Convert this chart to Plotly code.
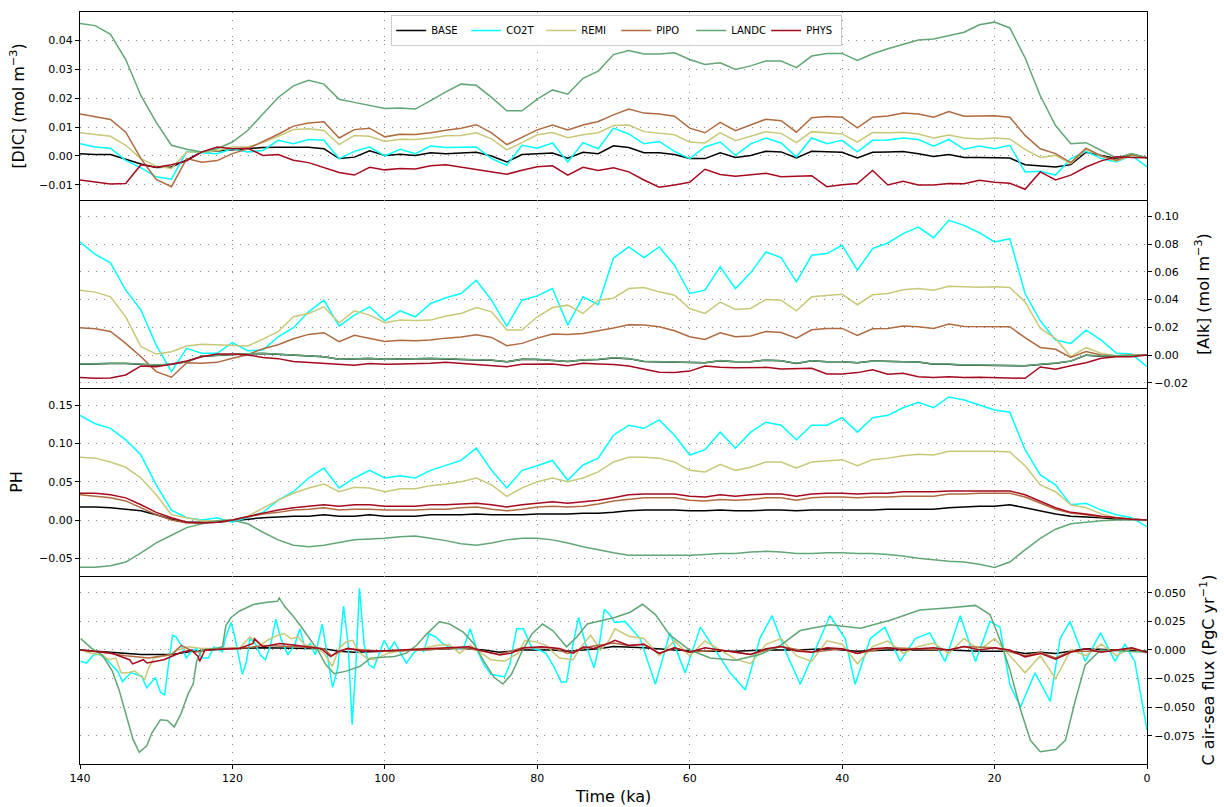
import plotly.graph_objects as go

# ---------------- data ----------------
T2 = list(range(140, -1, -2))  # ka, 2-ka steps for panels 1-3

DIC_BASE = [0.0008, 0.0005, 0.0005, -0.0011, -0.0028, -0.004, -0.0038, -0.0014, 0.0014, 0.0017, 0.0021, 0.0025, 0.0029, 0.003, 0.0029, 0.003, 0.0025, -0.0009, -0.0004, 0.0018, 0.0002, 0.0006, 0.0002, 0.0011, 0.0008, 0.0011, 0.0013, 0.0, -0.0021, 0.0005, 0.0008, 0.001, -0.0008, 0.0013, 0.0008, 0.0035, 0.0029, 0.0011, 0.0011, 0.0005, -0.0009, -0.0009, 0.0011, -0.0005, 0.0002, 0.0016, 0.0014, -0.0007, 0.0016, 0.0014, 0.0013, -0.0007, 0.0013, 0.0014, 0.0015, 0.0008, -0.0002, 0.0005, -0.0005, -0.0005, -0.0007, -0.0007, -0.003, -0.0034, -0.0038, -0.003, 0.0013, 0.0002, -0.0009, 0.0005, -0.0006]
DIC_CO2T = [0.0042, 0.0031, 0.0027, -0.0015, -0.0041, -0.0072, -0.008, 0.0016, 0.0011, 0.0008, 0.0025, 0.0014, 0.0019, 0.0054, 0.0042, 0.0057, 0.0054, -0.0009, 0.0016, 0.0031, 0.0, 0.0023, 0.0008, 0.0034, 0.0029, 0.0031, 0.0031, -0.0009, -0.0032, 0.0037, 0.0027, 0.0045, -0.0021, 0.0046, 0.0025, 0.0096, 0.0076, 0.0042, 0.005, 0.0016, -0.0009, 0.0031, 0.0048, 0.0002, 0.0042, 0.0062, 0.0045, -0.0003, 0.0062, 0.0042, 0.0054, 0.0014, 0.0054, 0.0055, 0.0062, 0.0057, 0.0034, 0.0057, 0.0023, 0.0034, 0.0025, 0.0037, -0.0055, -0.0053, -0.0066, -0.0009, 0.0016, -0.0009, -0.0021, 0.0002, -0.0038]
DIC_REMI = [0.008, 0.0073, 0.0068, 0.0037, -0.0009, -0.0035, -0.0043, 0.0014, 0.0014, 0.0018, 0.0031, 0.0031, 0.0046, 0.0068, 0.0091, 0.0094, 0.0088, 0.0039, 0.0071, 0.0068, 0.005, 0.0058, 0.0057, 0.0062, 0.007, 0.0071, 0.008, 0.0059, 0.0021, 0.0046, 0.0073, 0.0081, 0.0063, 0.0073, 0.008, 0.0105, 0.0107, 0.0084, 0.0079, 0.0073, 0.0048, 0.0045, 0.0081, 0.0053, 0.0068, 0.0084, 0.0078, 0.0046, 0.0084, 0.008, 0.0076, 0.0048, 0.0081, 0.008, 0.0082, 0.0076, 0.0062, 0.0072, 0.0062, 0.0059, 0.0062, 0.0059, 0.0023, -0.0005, 0.0002, -0.0026, 0.0023, 0.0, -0.0018, 0.0002, -0.0006]
DIC_PIPO = [0.0145, 0.0136, 0.0126, 0.0082, -0.0009, -0.0081, -0.0106, -0.0009, -0.0022, -0.0016, 0.0008, 0.0025, 0.005, 0.0075, 0.0103, 0.0114, 0.0118, 0.0062, 0.0091, 0.0096, 0.0066, 0.0075, 0.0074, 0.008, 0.0089, 0.0096, 0.0108, 0.008, 0.0039, 0.0065, 0.009, 0.0107, 0.009, 0.0107, 0.0119, 0.0142, 0.0162, 0.0148, 0.0145, 0.0137, 0.0096, 0.008, 0.0116, 0.0087, 0.0107, 0.0127, 0.0122, 0.0082, 0.0132, 0.0136, 0.0134, 0.0097, 0.0134, 0.0138, 0.0148, 0.0145, 0.0134, 0.0153, 0.0137, 0.0139, 0.0139, 0.0134, 0.0071, 0.0025, 0.0008, -0.0023, 0.0027, 0.0, -0.0015, 0.0005, -0.0006]
DIC_LANDC = [0.0457, 0.045, 0.042, 0.0333, 0.0208, 0.0116, 0.0037, 0.0023, 0.0014, 0.0025, 0.0048, 0.0088, 0.0145, 0.0202, 0.0242, 0.0261, 0.0248, 0.0196, 0.0185, 0.0174, 0.0164, 0.0166, 0.0162, 0.0191, 0.0221, 0.0248, 0.0244, 0.0202, 0.0156, 0.0156, 0.0196, 0.0228, 0.0213, 0.0268, 0.0293, 0.035, 0.0364, 0.0352, 0.0352, 0.0356, 0.0333, 0.0316, 0.0322, 0.0299, 0.0311, 0.0328, 0.0328, 0.0305, 0.0345, 0.0354, 0.0354, 0.033, 0.0353, 0.037, 0.0386, 0.04, 0.0404, 0.0416, 0.0427, 0.0453, 0.0462, 0.0442, 0.0339, 0.0208, 0.0105, 0.0042, 0.0046, 0.0019, -0.0007, 0.0008, -0.0006]
DIC_PHYS = [-0.0083, -0.0089, -0.0097, -0.0095, -0.003, -0.0039, -0.003, -0.0017, 0.0014, 0.0031, 0.0025, 0.0027, 0.0002, 0.0005, -0.0015, -0.0023, -0.004, -0.0057, -0.0066, -0.0039, -0.0048, -0.0043, -0.0045, -0.0034, -0.003, -0.0038, -0.0046, -0.0053, -0.0063, -0.0049, -0.0037, -0.0034, -0.0066, -0.0039, -0.005, -0.0041, -0.0055, -0.0083, -0.0108, -0.01, -0.0091, -0.0046, -0.0064, -0.007, -0.0064, -0.006, -0.0072, -0.007, -0.0068, -0.0106, -0.0099, -0.0095, -0.005, -0.01, -0.0087, -0.01, -0.01, -0.0095, -0.0096, -0.0084, -0.0091, -0.0094, -0.0115, -0.0055, -0.0083, -0.0066, -0.0038, -0.0017, -0.0003, -0.0005, -0.0006]

ALK_CO2T = [0.0816, 0.0727, 0.0665, 0.0468, 0.0324, 0.0072, -0.012, 0.0048, 0.0012, 0.0012, 0.0089, 0.0031, 0.0036, 0.0132, 0.0197, 0.0312, 0.0396, 0.0209, 0.0288, 0.0348, 0.0247, 0.0319, 0.0276, 0.0372, 0.0413, 0.0444, 0.054, 0.0396, 0.0209, 0.0396, 0.0427, 0.048, 0.0216, 0.042, 0.0363, 0.07, 0.078, 0.0703, 0.078, 0.0648, 0.0444, 0.0468, 0.0636, 0.048, 0.0593, 0.0744, 0.0703, 0.0528, 0.072, 0.0732, 0.0792, 0.0612, 0.0768, 0.0809, 0.0876, 0.0924, 0.0847, 0.0972, 0.0936, 0.0883, 0.0816, 0.084, 0.0444, 0.0247, 0.0108, 0.0084, 0.018, 0.0108, 0.0012, 0.0007, -0.0084]
ALK_REMI = [0.0468, 0.0454, 0.042, 0.0276, 0.006, 0.0007, 0.0024, 0.0065, 0.0077, 0.0074, 0.0072, 0.0065, 0.0115, 0.0168, 0.0276, 0.03, 0.0348, 0.0233, 0.0319, 0.0288, 0.0233, 0.0252, 0.025, 0.0252, 0.0281, 0.03, 0.0343, 0.0312, 0.018, 0.018, 0.0276, 0.0343, 0.036, 0.03, 0.0396, 0.041, 0.048, 0.0487, 0.0456, 0.0432, 0.0336, 0.03, 0.0382, 0.0329, 0.0336, 0.0401, 0.0396, 0.0319, 0.042, 0.0432, 0.0439, 0.0363, 0.0435, 0.0444, 0.0471, 0.048, 0.0468, 0.0497, 0.0492, 0.049, 0.0492, 0.0487, 0.0384, 0.0192, 0.012, -0.0012, 0.0053, 0.0012, -0.0007, 0.0002, 0.0]
ALK_PIPO = [0.0197, 0.019, 0.017, 0.0084, -0.0012, -0.012, -0.016, -0.0055, -0.006, -0.0053, -0.0024, 0.0002, 0.0046, 0.0074, 0.0118, 0.0149, 0.0161, 0.0096, 0.0142, 0.0122, 0.0098, 0.0106, 0.0103, 0.0108, 0.0122, 0.013, 0.0146, 0.0127, 0.0067, 0.0084, 0.0122, 0.0151, 0.0149, 0.0156, 0.0173, 0.0195, 0.0218, 0.0216, 0.0204, 0.0175, 0.0132, 0.0113, 0.0161, 0.0132, 0.0137, 0.017, 0.0163, 0.0122, 0.0182, 0.0192, 0.0192, 0.0142, 0.019, 0.0192, 0.0209, 0.0204, 0.0192, 0.0223, 0.0206, 0.0204, 0.0206, 0.0204, 0.0125, 0.0055, 0.0041, -0.0017, 0.0026, 0.0, -0.0005, 0.0, 0.0]
ALK_LANDC = [-0.0065, -0.006, -0.006, -0.006, -0.0065, -0.0072, -0.0065, -0.0048, -0.0007, 0.0, 0.0007, 0.001, 0.0012, 0.0007, 0.0, -0.0005, -0.0012, -0.003, -0.0028, -0.0024, -0.003, -0.0026, -0.0026, -0.0024, -0.003, -0.0031, -0.0034, -0.0036, -0.0048, -0.003, -0.0031, -0.0036, -0.0046, -0.0034, -0.0031, -0.002, -0.0025, -0.0045, -0.0048, -0.005, -0.0053, -0.0055, -0.004, -0.0048, -0.0048, -0.0036, -0.0041, -0.006, -0.0041, -0.0048, -0.0048, -0.0055, -0.0043, -0.0048, -0.0048, -0.005, -0.0065, -0.0065, -0.0072, -0.0072, -0.0072, -0.0072, -0.0077, -0.0067, -0.0058, -0.0043, 0.0, -0.0007, -0.0005, 0.0, 0.0]
ALK_BASE = [-0.0066, -0.0061, -0.0061, -0.0061, -0.0066, -0.0073, -0.0066, -0.0049, -0.0008, -0.0001, 0.0006, 0.0009, 0.0011, 0.0006, -0.0001, -0.0006, -0.0013, -0.0031, -0.0029, -0.0025, -0.0031, -0.0027, -0.0027, -0.0025, -0.0031, -0.0032, -0.0035, -0.0037, -0.0049, -0.0031, -0.0032, -0.0037, -0.0047, -0.0035, -0.0032, -0.0021, -0.0026, -0.0046, -0.0049, -0.0051, -0.0054, -0.0056, -0.0041, -0.0049, -0.0049, -0.0037, -0.0042, -0.0061, -0.0042, -0.0049, -0.0049, -0.0056, -0.0044, -0.0049, -0.0049, -0.0051, -0.0066, -0.0066, -0.0073, -0.0073, -0.0073, -0.0073, -0.0078, -0.0068, -0.0059, -0.0044, -0.0001, -0.0008, -0.0006, -0.0001, 0.0]
ALK_PHYS = [-0.0163, -0.0168, -0.0166, -0.0144, -0.0079, -0.0084, -0.0067, -0.0043, -0.0012, 0.0007, 0.0007, 0.0, -0.0017, -0.0026, -0.0046, -0.0053, -0.006, -0.0067, -0.0074, -0.0061, -0.0067, -0.0065, -0.0065, -0.006, -0.0053, -0.006, -0.0072, -0.0074, -0.0084, -0.0067, -0.0065, -0.0065, -0.0077, -0.006, -0.0065, -0.0068, -0.0079, -0.0103, -0.0125, -0.0127, -0.0116, -0.0079, -0.0089, -0.0091, -0.0089, -0.0089, -0.0101, -0.0096, -0.0096, -0.0137, -0.0137, -0.0127, -0.0106, -0.0139, -0.0132, -0.0156, -0.0163, -0.0156, -0.0163, -0.016, -0.0163, -0.0166, -0.0168, -0.0086, -0.0103, -0.0077, -0.0055, -0.0024, -0.0012, -0.0012, 0.0]

PH_BASE = [0.017, 0.017, 0.016, 0.014, 0.012, 0.007, 0.001, -0.003, -0.003, -0.003, -0.001, 0.001, 0.003, 0.004, 0.005, 0.005, 0.007, 0.005, 0.005, 0.007, 0.005, 0.005, 0.005, 0.007, 0.007, 0.007, 0.008, 0.007, 0.007, 0.007, 0.008, 0.008, 0.008, 0.009, 0.009, 0.01, 0.012, 0.013, 0.013, 0.013, 0.012, 0.012, 0.013, 0.012, 0.012, 0.013, 0.013, 0.012, 0.013, 0.013, 0.013, 0.013, 0.013, 0.014, 0.014, 0.014, 0.014, 0.016, 0.017, 0.018, 0.018, 0.02, 0.016, 0.012, 0.008, 0.005, 0.004, 0.003, 0.001, 0.001, 0.0]
PH_CO2T = [0.137, 0.126, 0.12, 0.105, 0.085, 0.046, 0.013, 0.003, 0.0, 0.003, -0.003, 0.004, 0.01, 0.026, 0.037, 0.055, 0.068, 0.042, 0.055, 0.065, 0.055, 0.058, 0.055, 0.065, 0.072, 0.078, 0.094, 0.065, 0.042, 0.065, 0.071, 0.078, 0.052, 0.072, 0.081, 0.111, 0.124, 0.12, 0.131, 0.111, 0.085, 0.092, 0.115, 0.094, 0.115, 0.128, 0.124, 0.105, 0.124, 0.124, 0.134, 0.115, 0.134, 0.137, 0.147, 0.154, 0.147, 0.161, 0.157, 0.15, 0.144, 0.141, 0.092, 0.059, 0.046, 0.02, 0.022, 0.013, 0.007, 0.003, -0.009]
PH_REMI = [0.082, 0.081, 0.076, 0.069, 0.055, 0.033, 0.007, 0.003, -0.001, -0.001, 0.0, 0.005, 0.016, 0.026, 0.035, 0.042, 0.047, 0.037, 0.043, 0.042, 0.037, 0.041, 0.041, 0.045, 0.047, 0.05, 0.055, 0.046, 0.031, 0.042, 0.05, 0.055, 0.05, 0.055, 0.063, 0.076, 0.082, 0.082, 0.081, 0.076, 0.065, 0.063, 0.073, 0.065, 0.069, 0.076, 0.076, 0.068, 0.076, 0.077, 0.079, 0.071, 0.079, 0.081, 0.084, 0.086, 0.085, 0.09, 0.09, 0.09, 0.09, 0.089, 0.071, 0.046, 0.037, 0.02, 0.016, 0.008, 0.003, 0.001, 0.0]
PH_PIPO = [0.033, 0.031, 0.029, 0.025, 0.016, 0.007, 0.0, -0.004, -0.004, -0.003, 0.0, 0.004, 0.008, 0.01, 0.013, 0.014, 0.016, 0.013, 0.014, 0.014, 0.013, 0.013, 0.013, 0.014, 0.014, 0.016, 0.017, 0.014, 0.012, 0.014, 0.017, 0.018, 0.017, 0.018, 0.021, 0.025, 0.027, 0.029, 0.029, 0.029, 0.026, 0.025, 0.027, 0.026, 0.027, 0.029, 0.029, 0.026, 0.029, 0.03, 0.03, 0.029, 0.03, 0.03, 0.031, 0.031, 0.031, 0.034, 0.034, 0.035, 0.035, 0.035, 0.03, 0.022, 0.014, 0.009, 0.007, 0.004, 0.003, 0.001, 0.0]
PH_LANDC = [-0.062, -0.062, -0.06, -0.055, -0.043, -0.03, -0.02, -0.01, -0.005, -0.001, 0.0, -0.005, -0.016, -0.026, -0.033, -0.035, -0.033, -0.029, -0.026, -0.025, -0.024, -0.022, -0.021, -0.024, -0.027, -0.031, -0.033, -0.03, -0.026, -0.024, -0.024, -0.026, -0.03, -0.035, -0.039, -0.043, -0.046, -0.046, -0.046, -0.046, -0.046, -0.045, -0.044, -0.044, -0.042, -0.041, -0.042, -0.044, -0.044, -0.043, -0.043, -0.044, -0.044, -0.045, -0.047, -0.05, -0.052, -0.054, -0.055, -0.058, -0.062, -0.055, -0.039, -0.024, -0.012, -0.005, -0.003, -0.001, 0.0, 0.0, 0.0]
PH_PHYS = [0.035, 0.035, 0.033, 0.029, 0.02, 0.01, 0.003, -0.003, -0.004, -0.003, 0.0, 0.005, 0.009, 0.013, 0.016, 0.018, 0.02, 0.018, 0.02, 0.02, 0.018, 0.018, 0.018, 0.02, 0.02, 0.021, 0.022, 0.02, 0.017, 0.02, 0.022, 0.024, 0.022, 0.024, 0.026, 0.029, 0.033, 0.034, 0.034, 0.034, 0.031, 0.03, 0.033, 0.031, 0.033, 0.034, 0.034, 0.031, 0.034, 0.035, 0.035, 0.034, 0.035, 0.035, 0.037, 0.037, 0.037, 0.038, 0.038, 0.038, 0.038, 0.038, 0.033, 0.024, 0.016, 0.01, 0.008, 0.005, 0.003, 0.001, 0.0]

# C air-sea flux: each series has its own time points (ka)
FLUX_BASE_T = [140, 136, 132, 128, 125, 121, 116, 112, 108, 106, 104, 100, 95, 90, 87, 85, 82, 78, 76, 72, 70, 66, 62, 58, 54, 50, 46, 42, 38, 34, 30, 26, 22, 18, 16, 14, 12, 10, 8, 4, 0]
FLUX_BASE = [0.0, -0.002, -0.004, -0.004, -0.001, 0.001, 0.002, 0.0015, 0.001, -0.001, -0.002, -0.001, 0.0, 0.0015, 0.0, -0.002, 0.0, 0.0, -0.001, 0.001, 0.003, 0.002, 0.0, -0.001, -0.001, 0.0, 0.0, 0.001, -0.001, 0.0, 0.0, 0.0, -0.001, -0.001, -0.003, -0.002, -0.003, -0.001, 0.001, 0.0, -0.001]

FLUX_CO2T_T = [139.91, 139.14, 138.24, 137.56, 136.66, 135.76, 135.08, 134.40, 133.95, 133.27, 132.60, 131.92, 131.24, 130.79, 130.11, 129.44, 128.89, 128.44, 127.86, 127.40, 126.73, 126.05, 125.37, 124.70, 124.02, 123.12, 122.44, 121.76, 121.31, 120.86, 120.18, 119.73, 119.05, 118.69, 118.15, 117.70, 117.02, 116.34, 115.67, 114.99, 114.31, 113.63, 112.73, 111.83, 111.15, 110.47, 109.80, 109.12, 108.22, 107.54, 106.86, 106.18, 105.42, 104.83, 104.29, 103.79, 103.34, 102.71, 102.12, 101.44, 100.77, 100.09, 99.41, 98.74, 98.06, 97.16, 96.25, 95.58, 94.90, 94.22, 93.32, 92.42, 91.29, 90.61, 89.71, 88.80, 87.90, 87.00, 86.09, 84.97, 84.29, 83.61, 82.71, 81.81, 80.68, 79.77, 78.87, 77.74, 76.84, 76.16, 75.26, 74.58, 73.68, 72.55, 71.87, 71.20, 70.52, 69.84,
               68.5, 66.5, 64.5, 62.6, 60.6, 58.6, 56.7, 54.7, 52.7, 50.8, 49.2, 47.5, 45.5, 43.5, 41.6, 39.6, 38.3, 36.3, 34.4, 32.4, 30.4, 28.5, 26.5, 24.5, 22.5, 20.6, 19.3, 18.0, 16.6, 14.7, 12.7, 11.4, 10.1, 8.1, 6.1, 4.2, 2.9, 1.6, 0.0]
FLUX_CO2T = [-0.0099, -0.0114, -0.0043, -0.0037, -0.0071, -0.0134, -0.0185, -0.0276, -0.0241, -0.0199, -0.0213, -0.0227, -0.0332, -0.0298, -0.0241, -0.0369, -0.0392, -0.0156, 0.0128, 0.0114, 0.0043, -0.0071, -0.0009, 0.0014, -0.0071, -0.0071, 0.0028, 0.0, -0.0014, 0.0114, 0.0241, 0.0128, -0.0114, -0.0213, -0.0099, 0.0099, 0.0057, -0.0043, -0.0085, 0.0043, 0.027, 0.0099, -0.0043, 0.0043, 0.0185, 0.0014, 0.0057, -0.0043, 0.0227, -0.0071, -0.0327, -0.0156, 0.0384, 0.0057, -0.0653, -0.0128, 0.054, 0.0043, -0.0128, -0.0156, -0.0028, 0.0085, 0.0, 0.0071, -0.0014, -0.0114, -0.0028, 0.0014, -0.0014, 0.0142, 0.0114, 0.0057, 0.0014, 0.0014, 0.0014, 0.0185, 0.0, -0.0128, -0.0213, -0.0227, -0.0236, -0.0128, 0.0185, 0.0185, 0.0014, 0.0, -0.0028, -0.0156, -0.0284, -0.0276, 0.0071, 0.0284, 0.0057, -0.0156, 0.0043, 0.0355, 0.0313, 0.0241,
             0.025, 0.01, -0.03, 0.015, -0.02, 0.02, 0.0, -0.02, -0.035, 0.01, 0.03, 0.0, -0.03, 0.0, 0.03, 0.01, -0.03, 0.01, 0.02, -0.01, 0.01, 0.015, -0.01, 0.03, -0.01, 0.025, 0.02, -0.03, -0.05, -0.02, -0.045, 0.01, 0.025, -0.01, 0.015, -0.01, 0.005, -0.01, -0.07]

FLUX_REMI_T = [139.9, 138.5, 137.1, 136.2, 135.3, 134.6, 133.7, 132.8, 132.1, 131.5, 131.0, 130.3, 129.4, 128.1, 127.2, 125.8, 124.0, 121.3, 119.1, 117.7, 116.3, 115.4, 114.1, 113.2, 112.3, 111.4, 110.5, 109.1, 108.0, 106.9, 106.0, 105.1, 104.2, 103.5, 102.4, 101.4, 99.6, 97.4, 95.1, 92.9, 91.5, 90.2, 88.8, 87.0, 86.1, 84.3, 82.5, 81.6, 80.2, 78.9, 78.0, 77.1, 75.3, 74.4, 73.0, 71.7, 70.7, 69.8,
               68, 66, 64, 62, 60, 58, 56, 54, 52, 50, 48, 46, 44, 42, 40, 38, 36, 34, 32, 30, 28, 26, 24, 22, 20, 18, 16, 14, 12, 10, 8, 6, 4, 2, 0]
FLUX_REMI = [0.0, -0.0028, -0.0043, -0.0085, -0.0071, -0.0199, -0.0199, -0.0185, -0.0227, -0.0256, -0.0156, -0.0071, -0.0057, -0.0043, 0.0, 0.0028, 0.0014, 0.0014, 0.0014, 0.0114, 0.0043, 0.0085, 0.0128, 0.0142, 0.0099, 0.0114, 0.0043, 0.0028, -0.0028, -0.0142, 0.0014, 0.0071, 0.0085, -0.0014, -0.0071, -0.0085, -0.0028, 0.0, 0.0014, 0.0043, 0.0043, -0.0028, 0.0043, -0.0043, -0.0085, -0.0099, -0.0028, 0.0085, 0.0071, 0.0043, -0.0014, -0.0071, -0.0085, 0.0014, 0.0128, 0.0, 0.0071, 0.0185,
             0.012, 0.01, -0.005, 0.008, -0.005, 0.008, 0.0, -0.008, -0.012, 0.005, 0.01, -0.005, -0.01, 0.008, 0.005, -0.012, 0.003, 0.008, -0.003, 0.003, 0.006, -0.003, 0.01, 0.0, 0.01, -0.005, -0.02, -0.005, -0.025, 0.0, -0.005, 0.005, -0.005, 0.002, -0.003]

FLUX_PIPO_T = [139.9, 137, 134, 131, 128, 126.7, 125, 122, 118, 116, 112, 108, 107, 105, 100, 95, 90, 87, 85, 82, 78, 76, 73, 70, 68, 66, 64, 62, 60, 56, 52, 48, 44, 40, 38, 34, 30, 26, 24, 20, 16, 14, 12, 10, 6, 2, 0]
FLUX_PIPO = [0.0, -0.002, -0.005, -0.007, -0.004, 0.004, -0.002, 0.001, 0.002, 0.004, 0.003, 0.001, -0.005, 0.001, -0.001, 0.0, 0.002, -0.001, -0.004, 0.002, 0.002, -0.003, 0.003, 0.006, 0.004, 0.005, -0.003, 0.002, -0.002, 0.0, -0.004, 0.003, -0.002, 0.001, -0.003, 0.002, 0.001, 0.0, 0.003, 0.002, -0.005, -0.002, -0.007, -0.001, -0.001, 0.001, -0.002]

FLUX_LANDC_T = [139.91, 138.47, 137.11, 135.76, 134.85, 133.95, 133.05, 132.23, 131.24, 130.56, 129.44, 128.53, 127.63, 126.73, 125.82, 125.15, 124.70, 124.02, 122.21, 121.31, 120.86, 120.18, 119.05, 117.25, 115.44, 114.09, 113.86, 113.18, 112.05, 110.93, 109.57, 108.67, 107.77, 106.64, 105.06, 103.25, 101.90, 100.54, 98.74, 97.16, 95.80, 94.67, 92.87, 91.51, 89.71, 88.35, 87.00, 85.64, 84.51, 83.39, 82.03, 80.68, 79.32, 77.97, 76.16, 74.81, 73.45, 71.65, 69.84,
                67.8, 66.2, 64.5, 62.6, 60.0, 57.3, 54.0, 50.8, 48.1, 45.5, 41.6, 37.6, 33.7, 29.8, 25.8, 22.5, 20.6, 19.3, 18.0, 16.6, 15.3, 14.0, 12.0, 10.7, 9.4, 8.1, 6.1, 0.0]
FLUX_LANDC = [0.0099, 0.0014, -0.0043, -0.0185, -0.0355, -0.058, -0.078, -0.0895, -0.0838, -0.0724, -0.061, -0.0616, -0.0673, -0.0554, -0.0384, -0.0298, -0.0099, 0.0, 0.0014, 0.0028, 0.0213, 0.0284, 0.0341, 0.0398, 0.0418, 0.0426, 0.0455, 0.0384, 0.0298, 0.0199, 0.0071, -0.0014, -0.0128, -0.0207, -0.0185, -0.0142, -0.0071, -0.0063, -0.0057, -0.0028, 0.0043, 0.0128, 0.0247, 0.0227, 0.0156, 0.0057, -0.0099, -0.0241, -0.0298, -0.0213, -0.0014, 0.0142, 0.0227, 0.017, 0.0028, 0.0114, 0.0227, 0.0256, 0.0284,
              0.033, 0.04, 0.031, 0.013, 0.0, -0.007, -0.009, -0.004, 0.004, 0.017, 0.022, 0.019, 0.026, 0.035, 0.037, 0.039, 0.031, 0.009, -0.017, -0.052, -0.079, -0.089, -0.087, -0.079, -0.044, -0.013, 0.0, -0.002]

FLUX_PHYS_T = [139.9, 138.0, 135.8, 133.5, 133.1, 131.7, 131.2, 129.0, 126.7, 125.4, 124.5, 124.3, 123.6, 121.3, 119.1, 117.3, 117.1, 116.0, 113.8, 112.0, 109.8, 108.4, 107.1, 106.2, 104.8, 103.0, 100.8, 97.6, 95.4, 93.1, 90.8, 89.0, 87.2, 84.9, 83.5, 81.7, 79.4, 77.1, 75.3, 73.9, 72.6, 71.2, 69.8,
               68, 66, 64, 62, 60, 58, 56, 54, 52, 50, 48, 46, 44, 42, 40, 38, 36, 34, 32, 30, 28, 26, 24, 22, 20, 18, 16, 14, 12, 10, 8, 6, 4, 2, 0]
FLUX_PHYS = [0.0, -0.0014, -0.0028, -0.0085, -0.0122, -0.0085, -0.0114, -0.0085, -0.002, 0.0, -0.0057, -0.0099, 0.0, 0.0006, 0.0014, 0.0057, 0.0099, 0.0028, 0.0057, 0.0043, 0.0028, 0.0014, -0.0057, -0.0014, 0.0014, -0.0009, -0.0009, 0.0, 0.0006, 0.0014, 0.002, 0.0028, -0.0009, -0.0043, -0.0028, 0.002, 0.0028, 0.0014, -0.0028, 0.0028, 0.0014, 0.0043, 0.0085,
             0.004, 0.005, -0.003, 0.002, -0.002, 0.002, 0.0, -0.002, -0.004, 0.001, 0.003, -0.001, -0.002, 0.002, 0.001, -0.003, 0.001, 0.002, 0.0, 0.001, 0.002, 0.0, 0.003, 0.0, 0.002, 0.0, -0.006, -0.003, -0.008, -0.002, 0.001, -0.002, 0.0, 0.002, -0.002]

NAMES = ["BASE", "CO2T", "REMI", "PIPO", "LANDC", "PHYS"]
COLORS = {"BASE": "#000000", "CO2T": "#00ffff", "REMI": "#c8c878",
          "PIPO": "#b06a40", "LANDC": "#62a676", "PHYS": "#a50a1e"}

PANEL1 = {"BASE": DIC_BASE, "CO2T": DIC_CO2T, "REMI": DIC_REMI, "PIPO": DIC_PIPO, "LANDC": DIC_LANDC, "PHYS": DIC_PHYS}
PANEL2 = {"BASE": ALK_BASE, "CO2T": ALK_CO2T, "REMI": ALK_REMI, "PIPO": ALK_PIPO, "LANDC": ALK_LANDC, "PHYS": ALK_PHYS}
PANEL3 = {"BASE": PH_BASE, "CO2T": PH_CO2T, "REMI": PH_REMI, "PIPO": PH_PIPO, "LANDC": PH_LANDC, "PHYS": PH_PHYS}
PANEL4 = {"BASE": (FLUX_BASE_T, FLUX_BASE), "CO2T": (FLUX_CO2T_T, FLUX_CO2T), "REMI": (FLUX_REMI_T, FLUX_REMI),
          "PIPO": (FLUX_PIPO_T, FLUX_PIPO), "LANDC": (FLUX_LANDC_T, FLUX_LANDC), "PHYS": (FLUX_PHYS_T, FLUX_PHYS)}

# ---------------- figure ----------------
fig = go.Figure()
LW = 1.5
for n in NAMES:
    fig.add_trace(go.Scatter(x=T2, y=PANEL1[n], mode="lines", name=n, legendgroup=n,
                             line=dict(color=COLORS[n], width=LW), xaxis="x", yaxis="y"))
for n in NAMES:
    fig.add_trace(go.Scatter(x=T2, y=PANEL2[n], mode="lines", name=n, legendgroup=n, showlegend=False,
                             line=dict(color=COLORS[n], width=LW), xaxis="x2", yaxis="y2"))
for n in NAMES:
    fig.add_trace(go.Scatter(x=T2, y=PANEL3[n], mode="lines", name=n, legendgroup=n, showlegend=False,
                             line=dict(color=COLORS[n], width=LW), xaxis="x3", yaxis="y3"))
for n in NAMES:
    t, v = PANEL4[n]
    fig.add_trace(go.Scatter(x=t, y=v, mode="lines", name=n, legendgroup=n, showlegend=False,
                             line=dict(color=COLORS[n], width=LW), xaxis="x4", yaxis="y4"))

GRID = dict(showgrid=True, gridcolor="#8a8a8a", gridwidth=1, griddash="1px,7px", automargin=False)
TICKF = dict(family="DejaVu Sans", size=11, color="black")
TITLEF = dict(family="DejaVu Sans", size=16, color="black")

domains = [[0.75, 1.0], [0.5, 0.75], [0.25, 0.5], [0.0, 0.25]]
for i in range(1, 5):
    xa = dict(domain=[0, 1], anchor="y" if i == 1 else f"y{i}", range=[140, 0],
              tickvals=[140, 120, 100, 80, 60, 40, 20, 0], zeroline=False,
              showline=True, linecolor="black", linewidth=1, mirror=(i == 1), **GRID)
    if i < 4:
        xa.update(showticklabels=False, ticks="", matches="x4")
    else:
        xa.update(ticks="outside", ticklen=4, tickcolor="black", tickfont=TICKF,
                  title=dict(text="Time (ka)", font=TITLEF, standoff=6))
    fig.layout["xaxis" if i == 1 else f"xaxis{i}"] = xa

YFRAME = dict(showline=True, linecolor="black", linewidth=1, mirror=True, zeroline=False,
              ticks="outside", ticklen=4, tickcolor="black", tickfont=TICKF)
fig.layout.yaxis = dict(domain=domains[0], anchor="x", range=[-0.0152, 0.0497],
                        tickvals=[-0.01, 0.0, 0.01, 0.02, 0.03, 0.04], tickformat=".2f", side="left",
                        title=dict(text="[DIC] (mol m<sup>−3</sup>)", font=TITLEF, standoff=10), **GRID, **YFRAME)
fig.layout.yaxis2 = dict(domain=domains[1], anchor="x2", range=[-0.0238, 0.1119],
                         tickvals=[-0.02, 0.0, 0.02, 0.04, 0.06, 0.08, 0.10], tickformat=".2f", side="right",
                         title=dict(text="[Alk] (mol m<sup>−3</sup>)", font=TITLEF, standoff=10), **GRID, **YFRAME)
fig.layout.yaxis3 = dict(domain=domains[2], anchor="x3", range=[-0.0733, 0.1728],
                         tickvals=[-0.05, 0.0, 0.05, 0.10, 0.15], tickformat=".2f", side="left",
                         title=dict(text="PH", font=TITLEF, standoff=12), **GRID, **YFRAME)
fig.layout.yaxis4 = dict(domain=domains[3], anchor="x4", range=[-0.0997, 0.0647],
                         tickvals=[-0.075, -0.05, -0.025, 0.0, 0.025, 0.05], tickformat=".3f", side="right",
                         title=dict(text="C air-sea flux (PgC yr<sup>−1</sup>)", font=TITLEF, standoff=8), **GRID, **YFRAME)

fig.update_layout(
    width=1224, height=807,
    margin=dict(l=80, r=77, t=12, b=43, autoexpand=False),
    plot_bgcolor="white", paper_bgcolor="white",
    font=dict(family="DejaVu Sans", color="black"),
    legend=dict(orientation="h", x=0.503, xanchor="center", y=0.996, yanchor="top",
                bgcolor="rgba(255,255,255,0.9)", bordercolor="#cccccc", borderwidth=1,
                font=dict(family="DejaVu Sans", size=10), entrywidth=30, entrywidthmode="pixels",
                itemwidth=30, tracegroupgap=0),
    showlegend=True,
)

fig.write_html("out.html")
